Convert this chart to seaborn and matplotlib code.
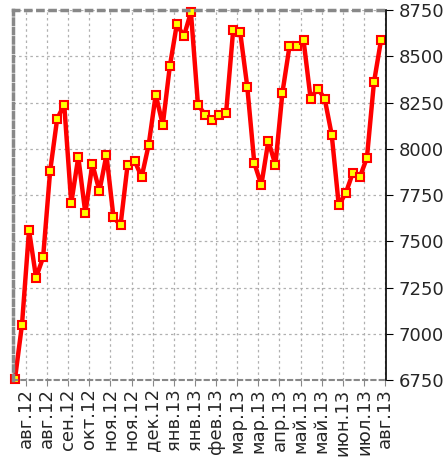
import matplotlib
matplotlib.use("Agg")
import matplotlib.pyplot as plt
import seaborn as sns
import pandas as pd

# weekly values
dates = pd.date_range("2012-07-29", periods=53, freq="7D")
values = [6755, 7049, 7560, 7304, 7413, 7880, 8163, 8239, 7706, 7956,
          7652, 7918, 7772, 7967, 7630, 7587, 7913, 7935, 7848, 8022,
          8293, 8130, 8446, 8674, 8609, 8739, 8239, 8185, 8158, 8185,
          8196, 8641, 8630, 8337, 7924, 7804, 8043, 7913, 8304, 8554,
          8554, 8587, 8272, 8326, 8272, 8076, 7696, 7761, 7870, 7848,
          7951, 8359, 8587]

tick_dates = pd.date_range("2012-08-09", periods=18, freq="21D")
tick_labels = ["авг.12", "авг.12", "сен.12", "окт.12", "ноя.12", "ноя.12",
               "дек.12", "янв.13", "янв.13", "фев.13", "мар.13", "мар.13",
               "апр.13", "май.13", "май.13", "июн.13", "июл.13", "авг.13"]
y_ticks = list(range(6750, 8751, 250))

df = pd.DataFrame({"date": dates, "value": values})

sns.set_style("white")
plt.rcParams["font.family"] = ["DejaVu Sans"]

fig = plt.figure(figsize=(4.46, 4.62), dpi=100)
ax = fig.add_axes([0.029, 0.1775, 0.8365, 0.8005])

sns.lineplot(data=df, x="date", y="value", ax=ax, color="red", linewidth=3.2,
             marker="s", markersize=6, markerfacecolor="yellow",
             markeredgecolor="red", markeredgewidth=1.5, clip_on=False)

ax.set_xlim(pd.Timestamp("2012-07-27"), pd.Timestamp("2013-08-02"))
ax.set_ylim(6750, 8750)

ax.set_xticks(tick_dates)
ax.set_xticklabels(tick_labels, rotation=90, fontsize=13)
ax.set_yticks(y_ticks)
ax.yaxis.tick_right()
ax.tick_params(axis="y", labelsize=13, length=5, pad=4, color="black",
               direction="out", right=True, left=False)
ax.tick_params(axis="x", length=4, pad=2, color="#888888", direction="out", bottom=True)
ax.set_xlabel("")
ax.set_ylabel("")

ax.grid(True, color="#b0b0b0", linestyle=(0, (2, 2.5)), linewidth=0.9)

for side in ["left", "top", "bottom"]:
    ax.spines[side].set_color("#888888")
ax.spines["left"].set_linewidth(2.5)
ax.spines["left"].set_linestyle((0, (1.5, 1.2)))
ax.spines["top"].set_linewidth(2.5)
ax.spines["top"].set_linestyle((0, (1.5, 2.0)))
ax.spines["bottom"].set_linewidth(1.5)
ax.spines["bottom"].set_linestyle((0, (2, 2)))
ax.spines["right"].set_color("black")
ax.spines["right"].set_linewidth(1.2)

fig.savefig("out.png", dpi=100)
